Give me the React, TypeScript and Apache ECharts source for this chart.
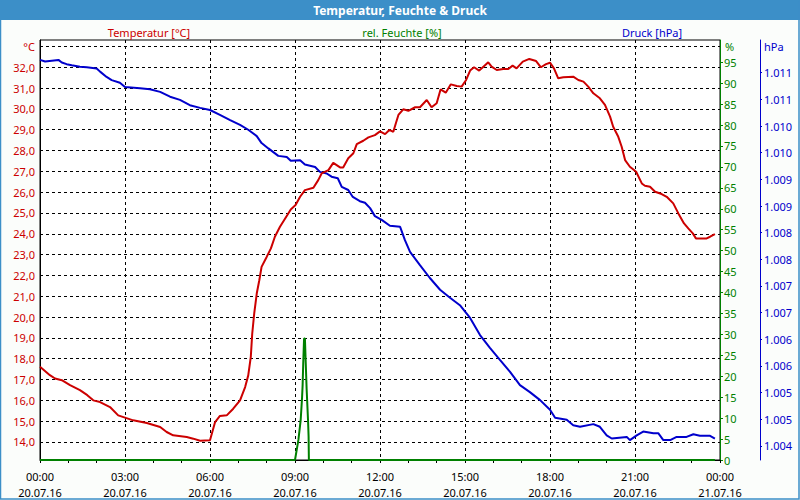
import React, { useEffect, useRef } from "react";
import * as echarts from "echarts";

const tempHours = [0.0, 0.35, 0.53, 0.77, 1.06, 1.41, 1.67, 1.88, 2.12, 2.47, 2.76, 3.29, 3.77, 4.24, 4.47, 4.7, 5.18, 5.41, 5.65, 6.0, 6.18, 6.35, 6.59, 6.82, 7.06, 7.24, 7.35, 7.44, 7.49, 7.56, 7.65, 7.74, 7.82, 8.0, 8.15, 8.29, 8.47, 8.73, 8.85, 9.02, 9.18, 9.35, 9.65, 9.82, 9.94, 10.18, 10.35, 10.59, 10.7, 10.88, 11.06, 11.18, 11.41, 11.59, 11.82, 12.0, 12.18, 12.33, 12.47, 12.56, 12.65, 12.82, 13.0, 13.24, 13.41, 13.65, 13.82, 14.0, 14.14, 14.32, 14.5, 14.71, 14.88, 15.04, 15.18, 15.32, 15.5, 15.65, 15.82, 15.94, 16.12, 16.35, 16.53, 16.68, 16.82, 17.04, 17.27, 17.51, 17.68, 17.86, 18.0, 18.14, 18.29, 18.47, 18.82, 19.0, 19.18, 19.35, 19.53, 19.76, 19.94, 20.12, 20.23, 20.41, 20.53, 20.65, 20.82, 21.04, 21.24, 21.35, 21.53, 21.71, 21.94, 22.12, 22.35, 22.53, 22.73, 22.88, 23.04, 23.15, 23.53, 23.65, 23.82];
const tempValues = [17.61, 17.21, 17.05, 16.97, 16.73, 16.49, 16.25, 16.0, 15.92, 15.68, 15.28, 15.04, 14.91, 14.72, 14.48, 14.32, 14.24, 14.16, 14.06, 14.08, 14.96, 15.25, 15.28, 15.6, 16.0, 16.64, 17.2, 18.09, 19.2, 20.17, 21.13, 21.77, 22.41, 22.89, 23.3, 23.86, 24.34, 24.9, 25.17, 25.38, 25.78, 26.1, 26.21, 26.58, 26.9, 27.06, 27.41, 27.19, 27.19, 27.63, 27.87, 28.31, 28.47, 28.63, 28.74, 28.92, 28.79, 28.99, 28.9, 29.31, 29.71, 29.98, 29.91, 30.08, 30.08, 30.43, 30.08, 30.27, 30.94, 30.78, 31.18, 31.1, 31.07, 31.39, 31.84, 32.0, 31.84, 32.03, 32.24, 32.03, 31.87, 31.92, 31.92, 32.08, 31.95, 32.27, 32.4, 32.3, 32.0, 32.15, 32.22, 31.95, 31.47, 31.52, 31.55, 31.39, 31.31, 31.07, 30.75, 30.51, 30.19, 29.63, 29.14, 28.66, 28.18, 27.54, 27.22, 26.98, 26.42, 26.31, 26.26, 26.02, 25.91, 25.78, 25.46, 24.98, 24.5, 24.26, 24.02, 23.78, 23.78, 23.86, 23.99];

const humHours = [0, 9.0, 9.12, 9.2, 9.25, 9.27, 9.29, 9.32, 9.35, 9.38, 9.41, 9.46, 9.48, 9.49, 23.82];
const humValues = [0, 0, 4.8, 9.5, 15, 18, 23, 29, 29, 23, 17, 9.5, 5.6, 0, 0];

const pressHours = [0, 0.18, 0.65, 0.77, 0.94, 1.12, 1.41, 1.65, 2.0, 2.12, 2.35, 2.53, 2.82, 3.0, 3.53, 3.88, 4.24, 4.59, 4.94, 5.29, 5.65, 6.0, 6.35, 6.71, 7.06, 7.35, 7.65, 7.82, 8.06, 8.41, 8.71, 8.85, 9.18, 9.35, 9.71, 9.88, 10.12, 10.29, 10.51, 10.65, 10.88, 11.04, 11.29, 11.47, 11.65, 11.82, 12.06, 12.35, 12.71, 12.88, 13.06, 13.41, 13.76, 14.12, 14.47, 14.82, 15.18, 15.53, 15.88, 16.24, 16.59, 16.94, 17.29, 17.65, 18.0, 18.18, 18.59, 18.82, 19.06, 19.53, 19.76, 20.0, 20.18, 20.71, 20.82, 21.06, 21.29, 21.65, 21.82, 22.0, 22.24, 22.47, 22.82, 23.06, 23.29, 23.65, 23.82];
const pressValues = [1011.24, 1011.21, 1011.24, 1011.19, 1011.16, 1011.14, 1011.11, 1011.1, 1011.08, 1011.02, 1010.92, 1010.86, 1010.81, 1010.73, 1010.71, 1010.69, 1010.64, 1010.55, 1010.49, 1010.39, 1010.34, 1010.3, 1010.21, 1010.11, 1010.02, 1009.93, 1009.81, 1009.68, 1009.58, 1009.44, 1009.42, 1009.35, 1009.36, 1009.28, 1009.23, 1009.14, 1009.11, 1009.05, 1009.02, 1008.86, 1008.8, 1008.67, 1008.59, 1008.56, 1008.46, 1008.31, 1008.24, 1008.13, 1008.11, 1007.86, 1007.64, 1007.39, 1007.15, 1006.93, 1006.78, 1006.64, 1006.4, 1006.08, 1005.84, 1005.61, 1005.39, 1005.14, 1005.01, 1004.86, 1004.68, 1004.53, 1004.49, 1004.39, 1004.36, 1004.41, 1004.36, 1004.2, 1004.14, 1004.17, 1004.11, 1004.2, 1004.27, 1004.24, 1004.24, 1004.11, 1004.11, 1004.17, 1004.17, 1004.22, 1004.19, 1004.19, 1004.14];

const tempTicks = [14, 15, 16, 17, 18, 19, 20, 21, 22, 23, 24, 25, 26, 27, 28, 29, 30, 31, 32, 33];
const humTicks = [0, 5, 10, 15, 20, 25, 30, 35, 40, 45, 50, 55, 60, 65, 70, 75, 80, 85, 90, 95];
const pressTicks = [1004, 1004.5, 1005, 1005.5, 1006, 1006.5, 1007, 1007.5, 1008, 1008.5, 1009, 1009.5, 1010, 1010.5, 1011];
const dayLabels = ["20.07.16", "21.07.16"];

const FONT = "Noto Sans";
const RED = "#cc0000";
const GREEN = "#008000";
const BLUE = "#0000cc";

export default function App() {
  const ref = useRef<HTMLDivElement>(null);
  useEffect(() => {
    if (!ref.current) return;
    const chart = echarts.init(ref.current, undefined, { renderer: "svg" });
    const dash = { color: "#000", type: [3, 3] as any, width: 1 };
    chart.setOption({
      animation: false,
      backgroundColor: "#fbfdfb",
      textStyle: { fontFamily: FONT, fontSize: 11 },
      grid: { left: 40, right: 80, top: 40, bottom: 40, show: true, borderColor: "#000", borderWidth: 1, backgroundColor: "#ffffff" },
      graphic: [
        { type: "rect", shape: { x: 0, y: 0, width: 800, height: 20 }, style: { fill: "#3c8fc8" } },
        { type: "rect", shape: { x: 0.5, y: 0.5, width: 798.5, height: 498.5 }, style: { fill: "none", stroke: "#3c8fc8", lineWidth: 1.5 } },
        { type: "text", x: 400, y: 10, style: { text: "Temperatur, Feuchte & Druck", fill: "#fff", font: `bold 12px "${FONT}"`, align: "center", verticalAlign: "middle" } },
        { type: "text", x: 149, y: 32, style: { text: "Temperatur [°C]", fill: RED, font: `11px "${FONT}"`, align: "center", verticalAlign: "middle" } },
        { type: "text", x: 402, y: 32, style: { text: "rel. Feuchte [%]", fill: GREEN, font: `11px "${FONT}"`, align: "center", verticalAlign: "middle" } },
        { type: "text", x: 652, y: 32, style: { text: "Druck [hPa]", fill: BLUE, font: `11px "${FONT}"`, align: "center", verticalAlign: "middle" } },
        { type: "text", x: 725, y: 46, style: { text: "%", fill: GREEN, font: `11px "${FONT}"`, align: "left", verticalAlign: "middle" } },
        { type: "text", x: 764, y: 46, style: { text: "hPa", fill: BLUE, font: `11px "${FONT}"`, align: "left", verticalAlign: "middle" } },
      ],
      xAxis: {
        type: "value",
        min: 0,
        max: 24,
        interval: 3,
        axisLine: { show: true, lineStyle: { color: "#000", width: 1 } },
        axisTick: { show: true, length: 3, lineStyle: { color: "#000" } },
        minorTick: { show: true, splitNumber: 3, length: 3, lineStyle: { color: "#000" } },
        splitLine: { show: true, lineStyle: dash },
        axisLabel: {
          color: "#000",
          fontSize: 11,
          lineHeight: 16,
          margin: 8,
          formatter: (v: number) => {
            const h = Math.round(v) % 24;
            const d = v >= 24 ? dayLabels[1] : dayLabels[0];
            return `${String(h).padStart(2, "0")}:00\n${d}`;
          },
        },
      },
      yAxis: [
        {
          type: "value",
          min: 13.135,
          max: 33.31,
          position: "left",
          axisLine: { show: true, lineStyle: { color: "#000" } },
          axisTick: { show: false, customValues: tempTicks },
          splitLine: { show: true, lineStyle: dash },
          axisLabel: {
            customValues: tempTicks,
            color: RED,
            fontSize: 11,
            margin: 5,
            formatter: (v: number) => (Math.round(v) === 33 ? "°C" : v.toFixed(1).replace(".", ",")),
          },
        },
        {
          type: "value",
          min: 0,
          max: 100.3,
          position: "right",
          offset: 0,
          axisLine: { show: true, lineStyle: { color: GREEN, width: 1 } },
          axisTick: { show: true, length: 3, customValues: humTicks, lineStyle: { color: GREEN } },
          splitLine: { show: false },
          axisLabel: { customValues: humTicks, color: GREEN, fontSize: 11, margin: 4 },
        },
        {
          type: "value",
          min: 1003.737,
          max: 1011.613,
          position: "right",
          offset: 40,
          axisLine: { show: true, lineStyle: { color: BLUE, width: 1 } },
          axisTick: { show: true, length: 2, customValues: pressTicks, lineStyle: { color: BLUE } },
          splitLine: { show: false },
          axisLabel: {
            customValues: pressTicks,
            color: BLUE,
            fontSize: 11,
            margin: 4,
            formatter: (v: number) => {
              const r = Math.round(v + 1e-9);
              return `${Math.floor(r / 1000)}.${String(r % 1000).padStart(3, "0")}`;
            },
          },
        },
      ],
      series: [
        {
          type: "line",
          yAxisIndex: 2,
          data: pressHours.map((h, i) => [h, pressValues[i]]),
          showSymbol: false,
          lineStyle: { color: BLUE, width: 2 },
          itemStyle: { color: BLUE },
        },
        {
          type: "line",
          yAxisIndex: 0,
          data: tempHours.map((h, i) => [h, tempValues[i]]),
          showSymbol: false,
          lineStyle: { color: RED, width: 2 },
          itemStyle: { color: RED },
        },
        {
          type: "line",
          yAxisIndex: 1,
          data: humHours.map((h, i) => [h, humValues[i]]),
          showSymbol: false,
          lineStyle: { color: GREEN, width: 2 },
          itemStyle: { color: GREEN },
        },
      ],
    });
    return () => chart.dispose();
  }, []);
  return <div ref={ref} style={{ width: 800, height: 500, position: "absolute", left: 0, top: 0 }} />;
}
